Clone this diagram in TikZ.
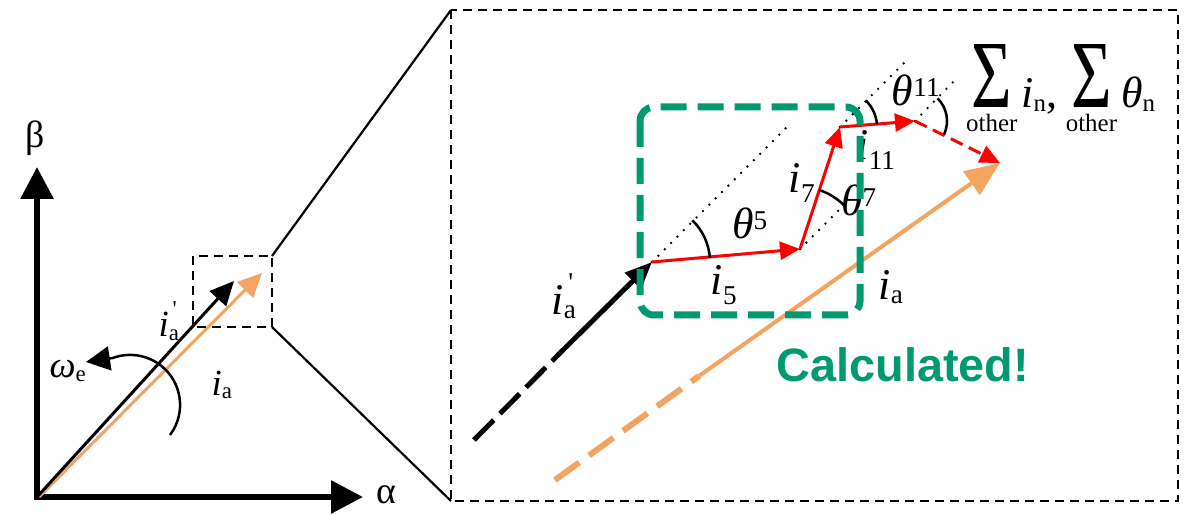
\documentclass[tikz,border=0pt]{standalone}
\usepackage{amsmath}
\usepackage{fontspec}
\setmainfont{Liberation Serif}
\newfontfamily\calcfont{Liberation Sans}
\usetikzlibrary{arrows.meta}
\definecolor{calcgreen}{RGB}{0,153,112}
\definecolor{iaorange}{RGB}{244,164,96}
\def\defaultscriptratio{.62}
\newcommand\iprime{\textit{i}\rlap{\raisebox{0.32em}{\textsuperscript{\,\textquotesingle}}}\textsubscript{a}}
\newcommand\smallt[1]{\hbox{\fontsize{25}{25}\selectfont #1}}
\newcommand\bigSum{\mathop{\hbox{\fontsize{70}{70}\selectfont\scalebox{1}[1.38]{Σ}}}\limits_{\lower9bp\smallt{other}}}
\begin{document}
\begin{tikzpicture}[x=1bp,y=-1bp,
  axis/.style={line width=6bp,-{Triangle[length=32bp,width=32bp]}},
  vecL/.style={line width=3bp,-{Triangle[length=24bp,width=22bp]}},
  boxdash/.style={line width=2.5bp,dash pattern=on 9bp off 6bp},
  redvec/.style={red,line width=3bp,-{Triangle[length=20bp,width=18bp]}},
  refdot/.style={line width=2.6bp,line cap=round,dash pattern=on 0bp off 9bp},
  anglearc/.style={line width=2.5bp},
  lblL/.style={inner sep=0pt,font=\fontsize{37}{40}\selectfont},
  lblR/.style={inner sep=0pt,font=\fontsize{44}{48}\selectfont},
  greek/.style={inner sep=0pt,font=\fontsize{38}{42}\selectfont}]
\useasboundingbox (0,0) rectangle (1189,515);

% ---------- left panel ----------
\coordinate (O) at (37,497);
\coordinate (Btip) at (37,167);
\coordinate (Atip) at (363,497);
\coordinate (iaLt) at (234,281);
\coordinate (iaOt) at (262,273);
\draw[axis] (37,500) -- (Btip);
\draw[axis] (34,497) -- (Atip);
\node[greek] (beta) at (35,138) {β};
\node[greek] (alpha) at (386,495) {α};

\draw[iaorange,vecL] (39,497) -- (iaOt);
\draw[vecL] (O) -- (iaLt);

\coordinate (omTip) at (86,362);
\draw[line width=2.5bp,-{Triangle[length=24bp,width=24bp]}]
  (170,435) arc[start angle=37,end angle=-110,radius=50] -- (omTip);

\node[lblL] (iapL) at (169,321) {\iprime};
\node[lblL] (omL) at (68,371) {\textit{ω}\textsubscript{e}};
\node[lblL] (iaL) at (222,385) {\textit{i}\textsubscript{a}};

% zoom boxes
\coordinate (s1) at (193,256);
\coordinate (s2) at (272,256);
\coordinate (s3) at (272,327);
\coordinate (b1) at (451,10);
\coordinate (b2) at (1178,501);
\coordinate (b3) at (451,501);
\draw[boxdash] (s1) rectangle (s3);
\draw[boxdash] (b1) rectangle (b2);
\draw[line width=2.2bp] (s2) -- (b1);
\draw[line width=2.2bp] (s3) -- (b3);

% ---------- right panel ----------
\coordinate (Bs) at (474,440);
\coordinate (Bm) at (560,353);
\coordinate (P0) at (652,262);
\coordinate (P1) at (800,249);
\coordinate (P2) at (840,127);
\coordinate (P3) at (915,121);
\coordinate (P4) at (1000,163);
\coordinate (Os) at (555,480);
\coordinate (Om) at (699,376);

\draw[line width=5bp,dash pattern=on 28bp off 9bp] (Bs) -- (Bm);
\draw[line width=5bp,-{Triangle[length=27bp,width=22bp]}] (Bm) -- (P0);

\draw[iaorange,line width=6bp,dash pattern=on 30bp off 12bp] (Os) -- (Om);
\draw[iaorange,line width=4bp,-{Triangle[length=35bp,width=28bp]}] (Om) -- (P4);

% reference directions
\draw[refdot] (P0) -- (787,127);
\draw[refdot] (P1) -- (840,209);
\draw[refdot] (P2) -- (907,60);
\draw[refdot] (P3) -- (955,80);

% red harmonic vectors
\draw[redvec] (P0) -- (P1);
\draw[redvec] (P1) -- (P2);
\draw[redvec] (P2) -- (P3);
\draw[redvec,dash pattern=on 13bp off 7bp] (P3) -- (P4);

% angle arcs
\draw[anglearc] (P0) ++(-46:58) arc[start angle=-46,end angle=-4,radius=58];
\draw[anglearc] (P1) ++(-72:62) arc[start angle=-72,end angle=-45,radius=62];
\draw[anglearc] (P2) ++(-46:37) arc[start angle=-46,end angle=-4,radius=37];
\draw[anglearc] (P3) ++(-45:32) arc[start angle=-45,end angle=25,radius=32];

% labels
\node[lblR] (iapR) at (564,296) {\iprime};
\node[lblR] (i5) at (724,285) {\textit{i}\textsubscript{5}};
\node[lblR] (iaR) at (891,287) {\textit{i}\textsubscript{a}};
\node[lblR] (i7) at (802,183) {\textit{i}\textsubscript{7}};
\node[lblR] (th5) at (750,223) {\textit{θ}\textsuperscript{5}};
\node[lblR] (th7) at (859,200) {\textit{θ}\textsuperscript{7}};
\node[lblR] (i11) at (876,150) {\textit{i}\textsubscript{11}};
\node[lblR] (th11) at (916,90) {\textit{θ}\textsuperscript{11}};
\node[lblR,anchor=base west] (sums) at (966,108)
  {$\bigSum\hbox{\itshape i}_{\smallt{n}}\hbox{,}\,\bigSum\hbox{\itshape θ}_{\smallt{n}}$};

\draw[calcgreen,line width=7bp,rounded corners=14bp,dash pattern=on 26bp off 11bp]
  (640,107) rectangle (860,315);

\node[inner sep=0pt,anchor=base,text=calcgreen,font=\calcfont\bfseries\fontsize{47}{50}\selectfont]
  (calc) at (903,382) {Calculated!};
\end{tikzpicture}
\end{document}
